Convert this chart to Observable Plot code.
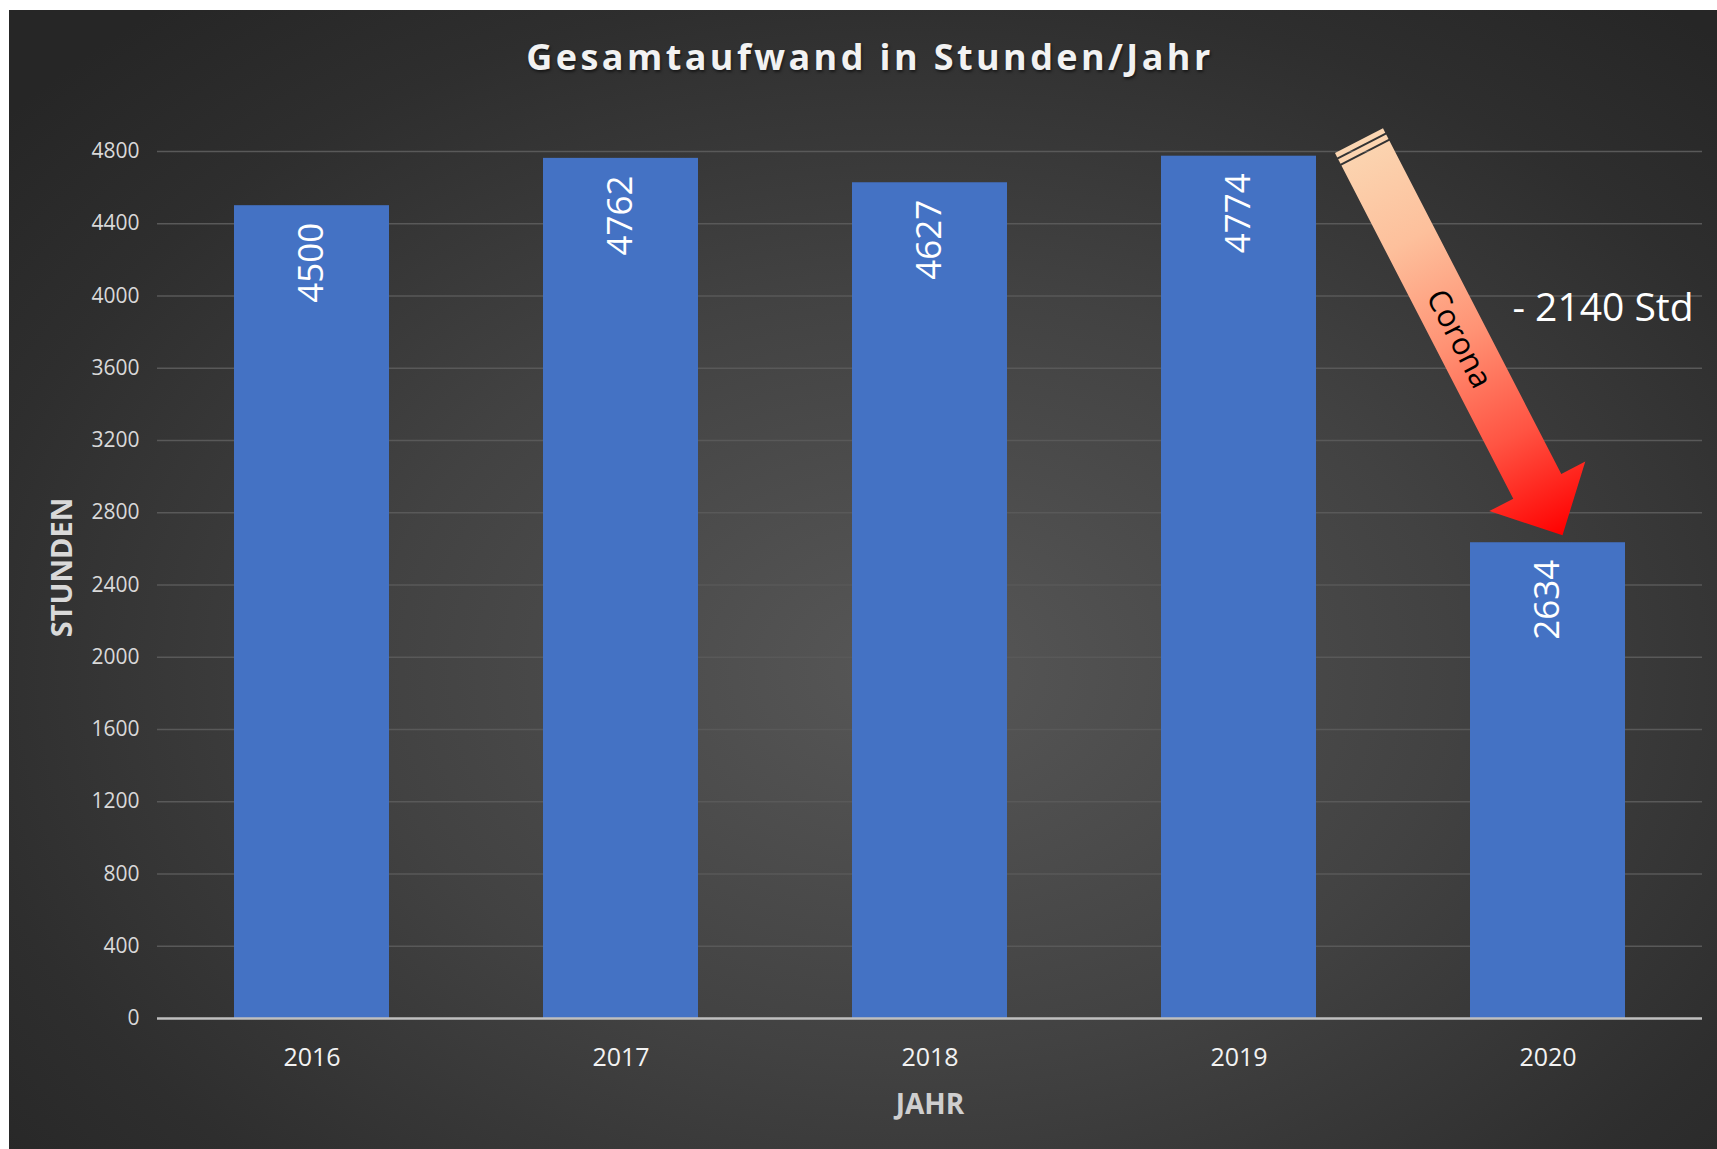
<!DOCTYPE html>
<html>
<head>
<meta charset="utf-8">
<script src="https://cdn.jsdelivr.net/npm/d3@7"></script>
<script src="https://cdn.jsdelivr.net/npm/@observablehq/plot@0.6"></script>
<style>
  html, body { margin: 0; padding: 0; background: #ffffff; }
  #chart {
    position: absolute; left: 9px; top: 10px; width: 1708px; height: 1139px; overflow: hidden;
    background: radial-gradient(ellipse 70% 75% at 53% 58%, #575757 0%, #424242 45%, #2e2e2e 80%, #262626 100%);
    font-family: "Open Sans", sans-serif;
  }
  #title {
    height: 100px; line-height: 94px; text-align: center; color: #f2f2f2; padding-left: 14px;
    font-weight: 700; font-size: 36px; letter-spacing: 3.4px;
    text-shadow: 1px 2px 3px rgba(0,0,0,0.55);
  }
  #plot svg { display: block; }
</style>
</head>
<body>
<div id="chart">
  <div id="title"></div>
  <div id="plot"></div>
</div>
<script>
const titleText = "Gesamtaufwand in Stunden/Jahr";
const years = ["2016", "2017", "2018", "2019", "2020"];
const hours = [4500, 4762, 4627, 4774, 2634];
const yTicks = [0, 400, 800, 1200, 1600, 2000, 2400, 2800, 3200, 3600, 4000, 4400, 4800];
const xLabel = "JAHR";
const yLabel = "STUNDEN";
const arrowLabel = "Corona";
const dropFrom = "2019";
const dropTo = "2020";

document.getElementById("title").textContent = titleText;

const data = years.map((year, i) => ({year, hours: hours[i]}));
const vFrom = hours[years.indexOf(dropFrom)];
const vTo = hours[years.indexOf(dropTo)];
const dropNote = [{year: dropTo, y: (vFrom + vTo) / 2, label: "- " + (vFrom - vTo) + " Std"}];

const plot = Plot.plot({
  width: 1708,
  height: 1039,
  marginTop: 41,
  marginBottom: 131,
  marginLeft: 148,
  marginRight: 15,
  style: {background: "transparent", fontFamily: "Open Sans, sans-serif", color: "#d9d9d9", overflow: "visible"},
  x: {domain: years, paddingInner: 0.5, paddingOuter: 0.25, label: null},
  y: {domain: [0, 4800], label: null},
  marks: [
    Plot.ruleY(yTicks.filter(t => t > 0), {stroke: "#595959", strokeWidth: 1.3}),
    Plot.barY(data, {x: "year", y: "hours", fill: "#4472c4"}),
    Plot.ruleY([0], {stroke: "#bfbfbf", strokeWidth: 2.5}),
    Plot.axisY({ticks: yTicks, tickFormat: d => String(d), tickSize: 0, tickPadding: 18, fontSize: 21,
      color: "#d9d9d9", label: null}),
    Plot.axisX({tickSize: 0, tickPadding: 30, fontSize: 25, color: "#f2f2f2", label: null}),
    Plot.text(data, {x: "year", y: "hours", text: d => String(d.hours), rotate: -90, textAnchor: "end",
      dy: 17, fontSize: 35, fill: "#ffffff"}),
    Plot.text([xLabel], {text: d => d, frameAnchor: "bottom", textAnchor: "middle", lineAnchor: "middle",
      dy: 87, fontSize: 28, fontWeight: "bold", fill: "#cfcfcf"}),
    Plot.text([yLabel], {text: d => d, frameAnchor: "left", textAnchor: "middle", lineAnchor: "middle",
      rotate: -90, dx: -94.5, dy: -17.5, fontSize: 29, fontWeight: "bold", fill: "#d9d9d9"}),
    Plot.text(dropNote, {x: "year", y: "y", text: "label", dx: 55, dy: -40.5, fontSize: 39, fill: "#ffffff"})
  ]
});
document.getElementById("plot").appendChild(plot);

// Gradient arrow from the 2019 bar to the 2020 bar, placed with the plot's own scales
const sx = plot.scale("x"), sy = plot.scale("y");
const bw = sx.bandwidth;
const x0 = sx.apply(dropFrom) + bw + 43, y0 = sy.apply(vFrom) - 15;
const x1 = sx.apply(dropTo) + bw / 2 + 15, y1 = sy.apply(vTo) - 7;
const L = Math.hypot(x1 - x0, y1 - y0);
const ang = Math.atan2(y1 - y0, x1 - x0) * 180 / Math.PI;
const svg = d3.select(plot);
const defs = svg.append("defs");
const grad = defs.append("linearGradient").attr("id", "arrowGrad")
  .attr("gradientUnits", "userSpaceOnUse").attr("x1", 0).attr("y1", 0).attr("x2", L).attr("y2", 0);
[[0, "#fbd6b2"], [0.25, "#fdc09c"], [0.5, "#ff9274"], [0.75, "#ff5443"], [1, "#ff0000"]]
  .forEach(([o, c]) => grad.append("stop").attr("offset", o).attr("stop-color", c));
const g = svg.append("g").attr("transform", `translate(${x0},${y0}) rotate(${ang})`);
const hw = 27, hh = 54, hl = 55;
g.append("rect").attr("x", 0).attr("y", -hw).attr("width", 5).attr("height", 2 * hw).attr("fill", "url(#arrowGrad)");
g.append("rect").attr("x", 7).attr("y", -hw).attr("width", 5).attr("height", 2 * hw).attr("fill", "url(#arrowGrad)");
g.append("path").attr("fill", "url(#arrowGrad)")
  .attr("d", `M14,${-hw}L${L - hl},${-hw}L${L - hl},${-hh}L${L},0L${L - hl},${hh}L${L - hl},${hw}L14,${hw}Z`);
g.append("text").attr("x", L * 0.5).attr("y", 0).attr("text-anchor", "middle").attr("dominant-baseline", "central")
  .attr("font-size", 31).attr("fill", "#000000").attr("font-family", "Open Sans, sans-serif").text(arrowLabel);
</script>
</body>
</html>
